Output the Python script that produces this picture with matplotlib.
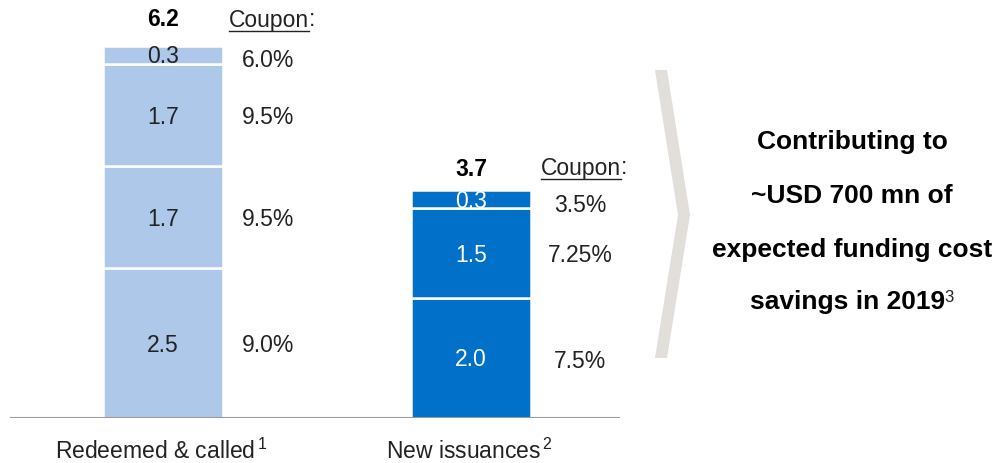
import matplotlib
matplotlib.use("Agg")
import matplotlib.pyplot as plt
from matplotlib.patches import Polygon
from matplotlib.lines import Line2D

plt.rcParams['font.family'] = ['Liberation Sans', 'DejaVu Sans']
plt.rcParams['mathtext.fontset'] = 'custom'
plt.rcParams['mathtext.rm'] = 'Liberation Sans'

# Data
categories = ['Redeemed & called', 'New issuances']
footnotes = ['1', '2']
segments = [[2.5, 1.7, 1.7, 0.3], [2.0, 1.5, 0.3]]
coupons = [['9.0%', '9.5%', '9.5%', '6.0%'], ['7.5%', '7.25%', '3.5%']]
totals = [6.2, 3.7]
bar_colors = ['#adc8e9', '#0070c9']
text_colors = ['#222222', 'white']
summary = ['Contributing to', '~USD 700 mn of', 'expected funding cost', 'savings in 2019']
summary_note = '3'

W, H = 1004, 463
fig = plt.figure(figsize=(W / 100, H / 100), dpi=100)
ax = fig.add_axes([10 / W, 45 / H, 610 / W, 418 / H])
ax.set_xlim(-0.497, 1.484)
ax.set_ylim(0, 418 / 60.0)
ax.axis('off')
ax.axhline(0, color='#9a9a9a', lw=1.5, zorder=5)

fs = 16.5
width = 0.39
coupon_dx = [0.34, 0.355]
px = 1 / 60.0  # one pixel in data units (y)
for i, segs in enumerate(segments):
    bottom = 0
    for v, c in zip(segs, coupons[i]):
        ax.bar(i, v, width=width, bottom=bottom, color=bar_colors[i],
               edgecolor='white', linewidth=1.8)
        ax.text(i, bottom + v / 2 - 2 * px, f'{v:.1f}', ha='center', va='center',
                fontsize=fs, color=text_colors[i], zorder=6)
        # thin top segments: coupon sits a bit lower than the segment centre
        dy = 6 if v < 0.5 else 3
        ax.text(i + coupon_dx[i], bottom + v / 2 - dy * px, c, ha='center', va='center',
                fontsize=fs, color='#222222')
        bottom += v
    ax.text(i, totals[i] + 0.45, f'{totals[i]:.1f}', ha='center', va='center',
            fontsize=fs, fontweight='bold', color='black')
    ax.text(i - 0.005, -0.55, categories[i] + r'$^{\,\mathregular{' + footnotes[i] + '}}$',
            ha='center', va='center', fontsize=fs, color='#222222')

# "Coupon:" headers with underline
fig.canvas.draw()
renderer = fig.canvas.get_renderer()
coupon_x = [229 / W, 541 / W]
coupon_y = [1 - 20 / H, 1 - 168 / H]
for x, y in zip(coupon_x, coupon_y):
    t = fig.text(x, y, 'Coupon', ha='left', va='center', fontsize=fs, color='#222222')
    bb = t.get_window_extent(renderer)
    fig.text(bb.x1 / W, y, ':', ha='left', va='center', fontsize=fs, color='#222222')
    uy = (bb.y0 + 1) / H
    fig.add_artist(Line2D([bb.x0 / W, bb.x1 / W], [uy, uy],
                          color='#222222', lw=1, transform=fig.transFigure))

# Chevron
chev = Polygon([(655 / W, 1 - 70 / H), (667 / W, 1 - 70 / H),
                (690 / W, 1 - 215 / H), (667 / W, 1 - 358 / H),
                (655 / W, 1 - 358 / H), (678 / W, 1 - 215 / H)],
               closed=True, transform=fig.transFigure, facecolor='#e2dfda',
               edgecolor='none')
fig.add_artist(chev)

# Summary text
ys = [142, 196, 250, 302]
sfs = 19
for k, (line, y) in enumerate(zip(summary, ys)):
    t = fig.text(852 / W, 1 - y / H, line, ha='center', va='center',
                 fontsize=sfs, fontweight='bold', color='black')
    if k == len(summary) - 1:
        t.set_x(848 / W)
        bb = t.get_window_extent(renderer)
        fig.text((bb.x1 - 1) / W, 1 - (y - 5) / H, summary_note, ha='left',
                 va='center', fontsize=12, color='#222222')

fig.savefig('out.png', dpi=100)
